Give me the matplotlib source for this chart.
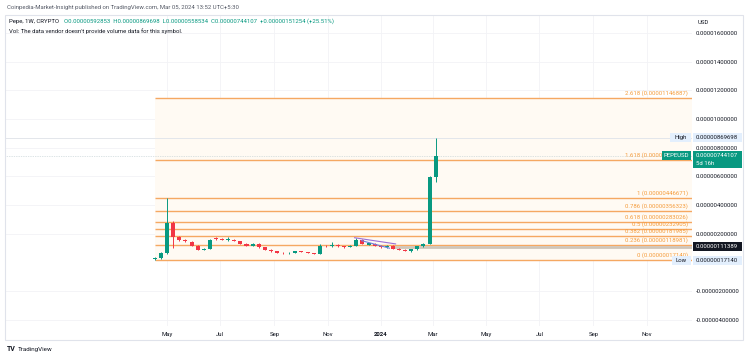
import numpy as np
import pandas as pd
import matplotlib
matplotlib.use('Agg')
import matplotlib.pyplot as plt
import matplotlib.dates as mdates
from matplotlib.patches import Rectangle
from matplotlib import transforms

plt.rcParams['font.family'] = ['Roboto', 'DejaVu Sans']

# ---------------- data ----------------
U = 1e-6
first_week = '2023-04-17'
opens = [0.25, 0.30, 0.68, 2.77, 1.77, 1.58, 1.46, 1.18, 0.90, 0.95,
         1.66, 1.62, 1.56, 1.60, 1.50, 1.30, 1.16, 1.32, 1.05, 0.88,
         0.79, 0.70, 0.64, 0.70, 0.82, 0.73, 0.66, 0.62, 1.14, 1.12,
         1.23, 1.15, 1.08, 1.17, 1.60, 1.24, 1.32, 1.18, 1.07, 1.16,
         0.98, 0.90, 0.80, 0.93, 1.14, 1.30, 5.92853]
highs = [0.42, 0.75, 4.47, 2.90, 1.85, 1.65, 1.50, 1.22, 1.00, 1.62,
         1.78, 1.70, 1.80, 1.66, 1.52, 1.34, 1.36, 1.36, 1.08, 0.92,
         0.82, 0.72, 0.72, 0.84, 0.84, 0.76, 0.70, 1.30, 1.22, 1.46,
         1.28, 1.18, 1.20, 1.74, 1.66, 1.38, 1.36, 1.22, 1.22, 1.20,
         1.02, 0.94, 0.95, 1.16, 1.34, 6.05, 8.69698]
lows = [0.1714, 0.28, 0.62, 1.00, 1.50, 1.42, 1.15, 0.85, 0.86, 0.92,
        1.55, 1.56, 1.52, 1.50, 1.28, 1.12, 1.12, 1.02, 0.86, 0.76,
        0.68, 0.61, 0.62, 0.68, 0.71, 0.64, 0.58, 0.60, 1.06, 1.08,
        1.10, 1.04, 1.05, 1.14, 1.28, 1.20, 1.15, 1.04, 1.04, 0.95,
        0.86, 0.78, 0.77, 0.91, 1.10, 1.26, 5.58534]
closes = [0.30, 0.68, 2.77, 1.77, 1.58, 1.48, 1.18, 0.88, 0.95, 1.58,
          1.62, 1.60, 1.62, 1.52, 1.30, 1.16, 1.32, 1.05, 0.88, 0.79,
          0.70, 0.64, 0.70, 0.82, 0.73, 0.66, 0.62, 1.14, 1.12, 1.23,
          1.15, 1.08, 1.17, 1.60, 1.32, 1.34, 1.18, 1.07, 1.18, 0.98,
          0.88, 0.80, 0.93, 1.14, 1.30, 5.92853, 7.44107]

fib_ratios = ['0', '0.236', '0.382', '0.5', '0.618', '0.786', '1', '1.618', '2.618']
fib_values = [0.00000017140, 0.00000118981, 0.00000181985, 0.00000232905,
              0.00000283026, 0.00000356323, 0.00000446671, 0.00000712125,
              0.00001146887]
fib_start = '2023-04-17'

hline_start = '2024-01-15'
hline_value = 0.00000111389
high_value = 0.00000869698
low_value = 0.00000017140
last_price = 0.00000744107

trend_purple_dates = ['2023-12-02', '2024-01-18']
trend_purple_vals = [1.73, 1.30]
trend_blue_dates = ['2023-12-10', '2024-01-11']
trend_blue_vals = [1.53, 1.00]

y_ticks = [-4, -2, 2, 4, 6, 8, 10, 12, 14, 16]
month_ticks = ['2023-05-01', '2023-07-01', '2023-09-01', '2023-11-01', '2024-01-01',
               '2024-03-01', '2024-05-01', '2024-07-01', '2024-09-01', '2024-11-01']
month_labels = ['May', 'Jul', 'Sep', 'Nov', '2024', 'Mar', 'May', 'Jul', 'Sep', 'Nov']

x_range = ['2022-10-27', '2024-12-23']
y_range = [-4.42, 17.25]

header = "Coinpedia-Market-Insight published on TradingView.com, Mar 05, 2024 13:52 UTC+5:30"
legend_name = "Pepe, 1W, CRYPTO"
legend_ohlc = "O0.00000592853  H0.00000869698  L0.00000558534  C0.00000744107  +0.00000151254 (+25.51%)"
vol_text = "Vol: The data vendor doesn't provide volume data for this symbol."

# ---------------- figure ----------------
W, H = 750, 357
fig = plt.figure(figsize=(W / 100, H / 100), dpi=100)
fig.patch.set_facecolor('white')

def fx(px):
    return px / W

def fy(py):
    return 1 - py / H

ax = fig.add_axes([fx(5), fy(326), fx(692) - fx(5), fy(15) - fy(326)])
ax.set_facecolor('white')

GREEN = '#089981'
RED = '#f23645'
FIB = '#f5a862'
FIBTXT = '#f59c3c'
TXT = '#131722'

dates = pd.date_range(first_week, periods=len(opens), freq='7D')
xd = mdates.date2num(dates)
o = np.array(opens) * U
h = np.array(highs) * U
l = np.array(lows) * U
c = np.array(closes) * U
up = c >= o
cols = np.where(up, GREEN, RED)

xl = mdates.date2num(pd.to_datetime(x_range))
ax.set_xlim(xl[0], xl[1])
ax.set_ylim(y_range[0] * U, y_range[1] * U)

# grid
for t in month_ticks:
    ax.axvline(mdates.date2num(pd.Timestamp(t)), color='#f2f3f6', lw=0.6, zorder=0)
for t in y_ticks:
    ax.axhline(t * U, color='#f2f3f6', lw=0.6, zorder=0)

# fib area & lines
fs = mdates.date2num(pd.Timestamp(fib_start))
ax.fill_between([fs, xl[1]], fib_values[0], fib_values[-1], color='#fffaf3', zorder=0.5, lw=0)
for r, v in zip(fib_ratios, fib_values):
    ax.hlines(v, fs, xl[1], color=FIB, lw=1.0, zorder=1)
    ax.annotate(f"{r} ({v:.11f})", xy=(0.994, v), xycoords=('axes fraction', 'data'),
                xytext=(0, 1.5), textcoords='offset points', ha='right', va='bottom',
                fontsize=4.3, color=FIBTXT, zorder=2)

# high/low/last lines
ax.axhline(high_value, color='#e3e6eb', lw=0.7, zorder=1)
ax.axhline(last_price, color='#b9c9cc', lw=0.5, ls=(0, (1, 1.5)), zorder=1)

# horizontal ray
ax.hlines(hline_value, mdates.date2num(pd.Timestamp(hline_start)), xl[1],
          color='#cfc6ba', lw=2.0, zorder=1.5)

# candles
ax.vlines(xd, l, h, colors=cols, lw=0.7, zorder=3)
body_h = np.maximum(np.abs(c - o), 0.06 * U)
ax.bar(xd, body_h, bottom=np.minimum(o, c), width=4.6, color=cols, lw=0, zorder=4)

# trend lines
ax.plot(mdates.date2num(pd.to_datetime(trend_purple_dates)), np.array(trend_purple_vals) * U,
        color='#9b6fd6', lw=0.8, zorder=5)
ax.plot(mdates.date2num(pd.to_datetime(trend_blue_dates)), np.array(trend_blue_vals) * U,
        color='#6f7fe0', lw=0.8, zorder=5)

# axes styling
for s in ax.spines.values():
    s.set_visible(False)
ax.yaxis.tick_right()
ax.set_yticks([t * U for t in y_ticks])
ax.set_yticklabels([f"{t * U:.11f}" for t in y_ticks])
ax.tick_params(axis='y', length=0, pad=2.5, labelsize=4.3, labelcolor=TXT)
ax.set_xticks(mdates.date2num(pd.to_datetime(month_ticks)))
ax.set_xticklabels(month_labels)
ax.tick_params(axis='x', length=0, pad=4, labelsize=4.3, labelcolor=TXT)
for lab in ax.get_xticklabels():
    if lab.get_text() == '2024':
        lab.set_fontweight('bold')

# right price-scale labels
trans = transforms.blended_transform_factory(fig.transFigure, ax.transData)
px_val = (y_range[1] - y_range[0]) * U / 311.0

def pbox(v, text, fc, tc, hpx=9, sub=None):
    hh = hpx * px_val
    top = v + 4.5 * px_val
    ax.add_patch(Rectangle((fx(693), top - hh), fx(742) - fx(693), hh, transform=trans,
                           facecolor=fc, edgecolor='none', clip_on=False, zorder=10))
    fig.text(fx(696), v, text, transform=trans, fontsize=4.3, color=tc, ha='left', va='center', zorder=11)
    if sub:
        fig.text(fx(696), v - 8 * px_val, sub, transform=trans, fontsize=4.3, color=tc,
                 ha='left', va='center', zorder=11)

def lbox(v, text, fc, tc, x0, x1):
    ax.add_patch(Rectangle((fx(x0), v - 4.5 * px_val), fx(x1) - fx(x0), 9 * px_val, transform=trans,
                           facecolor=fc, edgecolor='none', clip_on=False, zorder=10))
    fig.text((fx(x0) + fx(x1)) / 2, v, text, transform=trans, fontsize=4.3, color=tc,
             ha='center', va='center', zorder=11)

pbox(high_value, f"{high_value:.11f}", '#e3effd', TXT)
lbox(high_value, 'High', '#e3effd', TXT, 670, 691)
pbox(last_price, f"{last_price:.11f}", GREEN, 'white', hpx=17, sub='5d 16h')
lbox(last_price, 'PEPEUSD', GREEN, 'white', 662, 691)
pbox(hline_value, f"{hline_value:.11f}", '#131722', 'white')
pbox(low_value, f"{low_value:.11f}", '#e3effd', TXT)
lbox(low_value, 'Low', '#e3effd', TXT, 672, 691)

# USD label
fig.text(fx(698), fy(22), 'USD', fontsize=4.3, color=TXT, ha='left', va='center')

# panel border
fig.add_artist(Rectangle((fx(5), fy(340)), fx(743) - fx(5), fy(15) - fy(340),
                         transform=fig.transFigure, facecolor='none', edgecolor='#e0e3eb', lw=0.8))

# header texts
fig.text(fx(7), fy(8), header, fontsize=4.3, color='#555a66', ha='left', va='center')
fig.text(fx(9), fy(21), legend_name, fontsize=4.3, color=TXT, ha='left', va='center')
fig.text(fx(64), fy(21), legend_ohlc, fontsize=4.3, color=GREEN, ha='left', va='center')
fig.text(fx(9), fy(31), vol_text, fontsize=4.3, color=TXT, ha='left', va='center')

# TradingView footer
fig.text(fx(7), fy(349), 'TV', fontsize=5, color=TXT, ha='left', va='center', fontweight='bold')
fig.text(fx(18), fy(349), 'TradingView', fontsize=4.5, color=TXT, ha='left', va='center')

fig.savefig('out.png', dpi=100, facecolor='white')
